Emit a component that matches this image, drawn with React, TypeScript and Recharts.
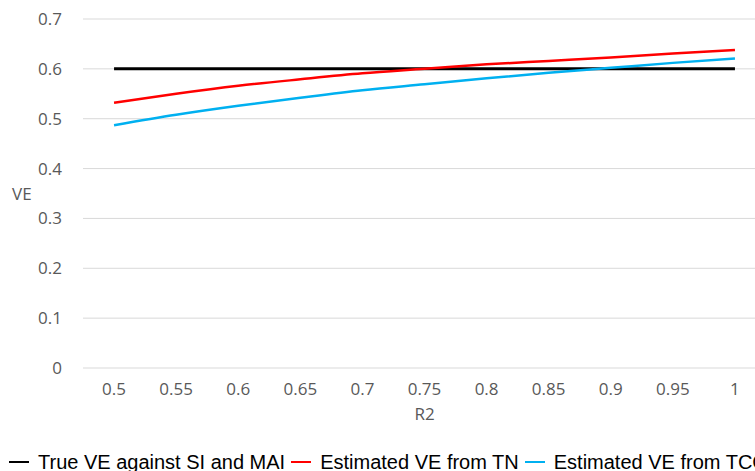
import { LineChart, Line, XAxis, YAxis, CartesianGrid, Legend, Label } from "recharts";

const r2 = ["0.5", "0.55", "0.6", "0.65", "0.7", "0.75", "0.8", "0.85", "0.9", "0.95", "1"];
const trueVE = [0.6, 0.6, 0.6, 0.6, 0.6, 0.6, 0.6, 0.6, 0.6, 0.6, 0.6];
const veTN = [0.532, 0.55, 0.566, 0.579, 0.591, 0.6, 0.609, 0.616, 0.623, 0.631, 0.638];
const veTCC = [0.487, 0.508, 0.526, 0.542, 0.557, 0.569, 0.581, 0.592, 0.602, 0.612, 0.621];
const yTicks = [0, 0.1, 0.2, 0.3, 0.4, 0.5, 0.6, 0.7];

const data = r2.map((x, i) => ({
  r2: x,
  trueVE: trueVE[i],
  veTN: veTN[i],
  veTCC: veTCC[i],
}));

const legendItems = [
  { name: "True VE against SI and MAI", color: "#000000" },
  { name: "Estimated VE from TN", color: "#ff0000" },
  { name: "Estimated VE from TCC", color: "#00b0f0" },
];

function BottomLegend() {
  return (
    <div
      style={{
        height: 50,
        paddingTop: 17,
        boxSizing: "border-box",
        paddingLeft: 1,
        display: "flex",
        whiteSpace: "nowrap",
        fontFamily: "'Liberation Sans', sans-serif",
        fontSize: 20,
        lineHeight: "24px",
        color: "#000",
      }}
    >
      {legendItems.map((it) => (
        <span key={it.name} style={{ display: "inline-flex", alignItems: "center", marginRight: 6 }}>
          <span style={{ display: "inline-block", width: 20, height: 2, background: it.color, marginRight: 9 }} />
          {it.name}
        </span>
      ))}
    </div>
  );
}

const tickStyle = { fill: "#595959", fontSize: 17, fontFamily: "'Open Sans', sans-serif" };

export default function App() {
  // the reference is cropped on the right and bottom, so the page frame is 755x471 and clips the chart
  return (
    <div style={{ width: 755, height: 471, padding: "8px 0 0 8px", boxSizing: "border-box", overflow: "hidden" }}>
      <style>{"body{margin:0}"}</style>
      <LineChart width={768} height={480} data={data} margin={{ top: 11, right: 10, left: 0, bottom: 10 }}>
        <CartesianGrid vertical={false} stroke="#d9d9d9" />
        <XAxis
          dataKey="r2"
          scale="band"
          height={60}
          tickLine={false}
          axisLine={false}
          tickMargin={9}
          tick={tickStyle}
          interval={0}
        >
          <Label value="R2" position="insideBottom" offset={8} style={tickStyle} />
        </XAxis>
        <YAxis
          width={75}
          domain={[0, 0.7]}
          ticks={yTicks}
          tickLine={false}
          axisLine={false}
          tickMargin={15}
          tick={tickStyle}
        >
          <Label value="VE" position="insideLeft" offset={4} style={tickStyle} />
        </YAxis>
        <Legend verticalAlign="bottom" align="left" content={() => <BottomLegend />} />
        <Line type="monotone" dataKey="trueVE" stroke="#000000" strokeWidth={3} dot={false} isAnimationActive={false} />
        <Line type="monotone" dataKey="veTN" stroke="#ff0000" strokeWidth={2.5} dot={false} isAnimationActive={false} />
        <Line type="monotone" dataKey="veTCC" stroke="#00b0f0" strokeWidth={2.5} dot={false} isAnimationActive={false} />
      </LineChart>
    </div>
  );
}
